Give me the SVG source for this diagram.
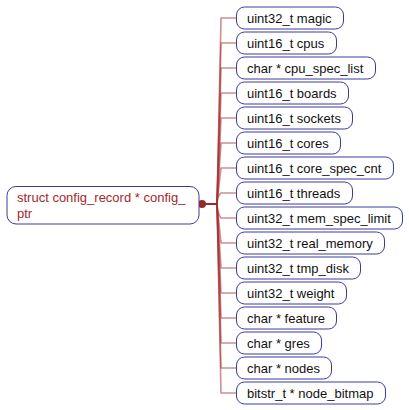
<svg xmlns="http://www.w3.org/2000/svg" width="409" height="410" viewBox="0 0 409 410">
<style>
.box{fill:#fff;stroke:#3a3aa0;stroke-width:1}
.t{font-family:"Liberation Sans",Arial,sans-serif;font-size:13px;fill:#111}
.rt{font-family:"Liberation Sans",Arial,sans-serif;font-size:13px;fill:#a22a2a}
.c{fill:none;stroke:#a83232;stroke-opacity:0.55;stroke-width:1.6;stroke-linejoin:round}
</style>
<rect width="409" height="410" fill="#fff"/>
<g id="connectors">
<path class="c" d="M206 204 L217 204 L221 18 L236 18"/>
<path class="c" d="M206 204 L217 204 L221 43 L236 43"/>
<path class="c" d="M206 204 L217 204 L221 68 L236 68"/>
<path class="c" d="M206 204 L217 204 L221 93 L236 93"/>
<path class="c" d="M206 204 L217 204 L221 118 L236 118"/>
<path class="c" d="M206 204 L217 204 L221 143 L236 143"/>
<path class="c" d="M206 204 L217 204 L221 168 L236 168"/>
<path class="c" d="M206 204 L217 204 Q217 196 221 193 L236 193"/>
<path class="c" d="M206 204 L217 204 Q217 212 221 218 L236 218"/>
<path class="c" d="M206 204 L217 204 L221 243 L236 243"/>
<path class="c" d="M206 204 L217 204 L221 268 L236 268"/>
<path class="c" d="M206 204 L217 204 L221 293 L236 293"/>
<path class="c" d="M206 204 L217 204 L221 318 L236 318"/>
<path class="c" d="M206 204 L217 204 L221 343 L236 343"/>
<path class="c" d="M206 204 L217 204 L221 368 L236 368"/>
<path class="c" d="M206 204 L217 204 L221 393 L236 393"/>
<line x1="202" y1="204" x2="217" y2="204" stroke="#9a2a2a" stroke-width="2"/>
<circle cx="202" cy="204" r="4" fill="#9a2a2a"/>
</g>
<g id="root">
<rect class="box" x="7" y="186.5" width="192" height="37.5" rx="9"/>
<text class="rt" x="17" y="202">struct config_record * config_</text>
<text class="rt" x="17" y="218">ptr</text>
</g>
<g id="n1"><rect class="box" x="236.5" y="7" width="107" height="22" rx="8"/><text class="t" x="247" y="22.5">uint32_t magic</text></g>
<g id="n2"><rect class="box" x="236.5" y="32" width="100" height="22" rx="8"/><text class="t" x="247" y="47.5">uint16_t cpus</text></g>
<g id="n3"><rect class="box" x="236.5" y="57" width="139" height="22" rx="8"/><text class="t" x="247" y="72.5">char * cpu_spec_list</text></g>
<g id="n4"><rect class="box" x="236.5" y="82" width="112" height="22" rx="8"/><text class="t" x="247" y="97.5">uint16_t boards</text></g>
<g id="n5"><rect class="box" x="236.5" y="107" width="116" height="22" rx="8"/><text class="t" x="247" y="122.5">uint16_t sockets</text></g>
<g id="n6"><rect class="box" x="236.5" y="132" width="104" height="22" rx="8"/><text class="t" x="247" y="147.5">uint16_t cores</text></g>
<g id="n7"><rect class="box" x="236.5" y="157" width="157" height="22" rx="8"/><text class="t" x="247" y="172.5">uint16_t core_spec_cnt</text></g>
<g id="n8"><rect class="box" x="236.5" y="182" width="116" height="22" rx="8"/><text class="t" x="247" y="197.5">uint16_t threads</text></g>
<g id="n9"><rect class="box" x="236.5" y="207" width="166" height="22" rx="8"/><text class="t" x="247" y="222.5">uint32_t mem_spec_limit</text></g>
<g id="n10"><rect class="box" x="236.5" y="232" width="148" height="22" rx="8"/><text class="t" x="247" y="247.5">uint32_t real_memory</text></g>
<g id="n11"><rect class="box" x="236.5" y="257" width="124" height="22" rx="8"/><text class="t" x="247" y="272.5">uint32_t tmp_disk</text></g>
<g id="n12"><rect class="box" x="236.5" y="282" width="110" height="22" rx="8"/><text class="t" x="247" y="297.5">uint32_t weight</text></g>
<g id="n13"><rect class="box" x="236.5" y="307" width="100" height="22" rx="8"/><text class="t" x="247" y="322.5">char * feature</text></g>
<g id="n14"><rect class="box" x="236.5" y="332" width="85" height="22" rx="8"/><text class="t" x="247" y="347.5">char * gres</text></g>
<g id="n15"><rect class="box" x="236.5" y="357" width="95" height="22" rx="8"/><text class="t" x="247" y="372.5">char * nodes</text></g>
<g id="n16"><rect class="box" x="236.5" y="382" width="149" height="22" rx="8"/><text class="t" x="247" y="397.5">bitstr_t * node_bitmap</text></g>
</svg>
